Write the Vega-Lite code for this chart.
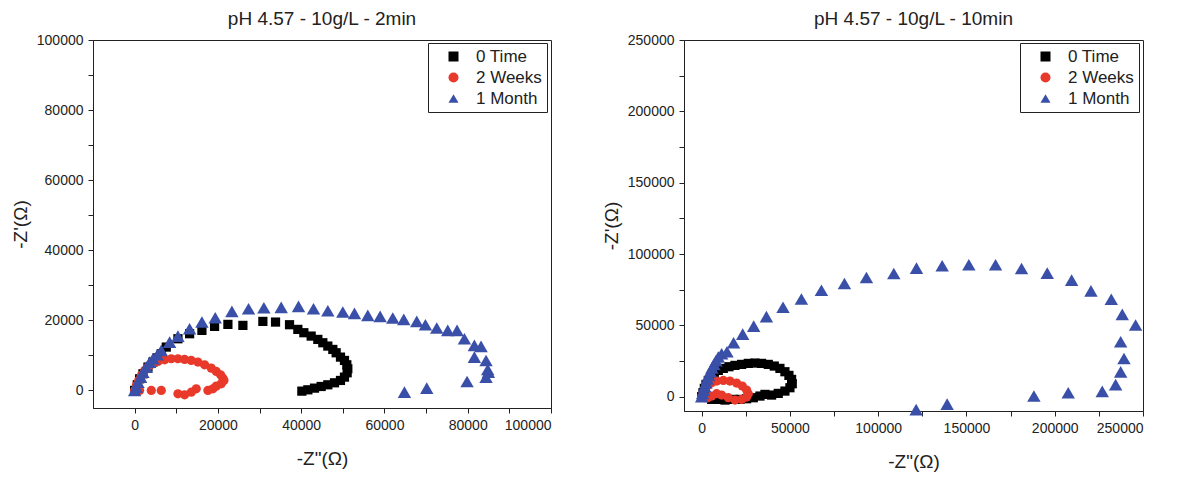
{
  "$schema": "https://vega.github.io/schema/vega-lite/v6.json",
  "padding": {"left": 10, "top": 9, "right": 5, "bottom": 5},
  "background": "white",
  "datasets": {
    "a": [
      {"s": "0 Time", "x": 0, "y": 0},
      {"s": "0 Time", "x": 640, "y": 1620},
      {"s": "0 Time", "x": 1200, "y": 3330},
      {"s": "0 Time", "x": 2000, "y": 4760},
      {"s": "0 Time", "x": 3200, "y": 6670},
      {"s": "0 Time", "x": 4400, "y": 8100},
      {"s": "0 Time", "x": 5400, "y": 9300},
      {"s": "0 Time", "x": 6400, "y": 10480},
      {"s": "0 Time", "x": 7600, "y": 12380},
      {"s": "0 Time", "x": 10400, "y": 14760},
      {"s": "0 Time", "x": 13200, "y": 16190},
      {"s": "0 Time", "x": 16160, "y": 17140},
      {"s": "0 Time", "x": 19200, "y": 18290},
      {"s": "0 Time", "x": 22400, "y": 18860},
      {"s": "0 Time", "x": 26000, "y": 18570},
      {"s": "0 Time", "x": 30800, "y": 19710},
      {"s": "0 Time", "x": 33840, "y": 19520},
      {"s": "0 Time", "x": 37200, "y": 18760},
      {"s": "0 Time", "x": 39200, "y": 17430},
      {"s": "0 Time", "x": 40640, "y": 16480},
      {"s": "0 Time", "x": 42400, "y": 15520},
      {"s": "0 Time", "x": 44000, "y": 14570},
      {"s": "0 Time", "x": 45200, "y": 13620},
      {"s": "0 Time", "x": 46400, "y": 12670},
      {"s": "0 Time", "x": 47600, "y": 11710},
      {"s": "0 Time", "x": 48400, "y": 10760},
      {"s": "0 Time", "x": 49440, "y": 9520},
      {"s": "0 Time", "x": 50400, "y": 8570},
      {"s": "0 Time", "x": 50960, "y": 7330},
      {"s": "0 Time", "x": 51200, "y": 6190},
      {"s": "0 Time", "x": 51040, "y": 5050},
      {"s": "0 Time", "x": 50400, "y": 3810},
      {"s": "0 Time", "x": 49440, "y": 2860},
      {"s": "0 Time", "x": 48000, "y": 2190},
      {"s": "0 Time", "x": 46400, "y": 1620},
      {"s": "0 Time", "x": 44800, "y": 1140},
      {"s": "0 Time", "x": 43200, "y": 670},
      {"s": "0 Time", "x": 41600, "y": 190},
      {"s": "0 Time", "x": 40160, "y": -190},
      {"s": "2 Weeks", "x": 0, "y": 0},
      {"s": "2 Weeks", "x": 400, "y": 1430},
      {"s": "2 Weeks", "x": 960, "y": 2860},
      {"s": "2 Weeks", "x": 1600, "y": 4290},
      {"s": "2 Weeks", "x": 2400, "y": 5710},
      {"s": "2 Weeks", "x": 3200, "y": 6670},
      {"s": "2 Weeks", "x": 4400, "y": 7620},
      {"s": "2 Weeks", "x": 5600, "y": 8290},
      {"s": "2 Weeks", "x": 7200, "y": 8760},
      {"s": "2 Weeks", "x": 8800, "y": 9050},
      {"s": "2 Weeks", "x": 10400, "y": 9050},
      {"s": "2 Weeks", "x": 12000, "y": 8860},
      {"s": "2 Weeks", "x": 13600, "y": 8570},
      {"s": "2 Weeks", "x": 15200, "y": 8100},
      {"s": "2 Weeks", "x": 16800, "y": 7330},
      {"s": "2 Weeks", "x": 18400, "y": 6380},
      {"s": "2 Weeks", "x": 19600, "y": 5430},
      {"s": "2 Weeks", "x": 20640, "y": 4480},
      {"s": "2 Weeks", "x": 21200, "y": 3520},
      {"s": "2 Weeks", "x": 21440, "y": 2860},
      {"s": "2 Weeks", "x": 20800, "y": 1900},
      {"s": "2 Weeks", "x": 19600, "y": 1240},
      {"s": "2 Weeks", "x": 18800, "y": 480},
      {"s": "2 Weeks", "x": 17600, "y": 0},
      {"s": "2 Weeks", "x": 14800, "y": 480},
      {"s": "2 Weeks", "x": 13600, "y": -480},
      {"s": "2 Weeks", "x": 12000, "y": -1240},
      {"s": "2 Weeks", "x": 10400, "y": -950},
      {"s": "2 Weeks", "x": 6400, "y": 0},
      {"s": "2 Weeks", "x": 4000, "y": 0},
      {"s": "2 Weeks", "x": 1200, "y": 0},
      {"s": "1 Month", "x": 0, "y": 0},
      {"s": "1 Month", "x": 400, "y": 950},
      {"s": "1 Month", "x": 800, "y": 2380},
      {"s": "1 Month", "x": 1440, "y": 3810},
      {"s": "1 Month", "x": 2000, "y": 5240},
      {"s": "1 Month", "x": 2800, "y": 6670},
      {"s": "1 Month", "x": 3600, "y": 8100},
      {"s": "1 Month", "x": 4400, "y": 9050},
      {"s": "1 Month", "x": 5440, "y": 10190},
      {"s": "1 Month", "x": 6400, "y": 11430},
      {"s": "1 Month", "x": 8400, "y": 13810},
      {"s": "1 Month", "x": 10400, "y": 15520},
      {"s": "1 Month", "x": 13200, "y": 17620},
      {"s": "1 Month", "x": 16160, "y": 19520},
      {"s": "1 Month", "x": 19360, "y": 20760},
      {"s": "1 Month", "x": 23360, "y": 22570},
      {"s": "1 Month", "x": 27360, "y": 23330},
      {"s": "1 Month", "x": 31040, "y": 23620},
      {"s": "1 Month", "x": 35200, "y": 23710},
      {"s": "1 Month", "x": 39360, "y": 24000},
      {"s": "1 Month", "x": 42960, "y": 23330},
      {"s": "1 Month", "x": 46400, "y": 22760},
      {"s": "1 Month", "x": 50000, "y": 22380},
      {"s": "1 Month", "x": 52800, "y": 22000},
      {"s": "1 Month", "x": 56000, "y": 21430},
      {"s": "1 Month", "x": 58960, "y": 21140},
      {"s": "1 Month", "x": 62000, "y": 20670},
      {"s": "1 Month", "x": 64640, "y": 20290},
      {"s": "1 Month", "x": 67760, "y": 19710},
      {"s": "1 Month", "x": 69840, "y": 18760},
      {"s": "1 Month", "x": 72560, "y": 17810},
      {"s": "1 Month", "x": 75200, "y": 17140},
      {"s": "1 Month", "x": 77440, "y": 17140},
      {"s": "1 Month", "x": 79200, "y": 14760},
      {"s": "1 Month", "x": 81600, "y": 12860},
      {"s": "1 Month", "x": 83200, "y": 12570},
      {"s": "1 Month", "x": 81600, "y": 9520},
      {"s": "1 Month", "x": 84400, "y": 8570},
      {"s": "1 Month", "x": 84800, "y": 6000},
      {"s": "1 Month", "x": 84960, "y": 5240},
      {"s": "1 Month", "x": 84400, "y": 3810},
      {"s": "1 Month", "x": 79840, "y": 2570},
      {"s": "1 Month", "x": 70160, "y": 670},
      {"s": "1 Month", "x": 64800, "y": -480}
    ],
    "b": [
      {"s": "0 Time", "x": 0, "y": 0},
      {"s": "0 Time", "x": 750, "y": 2800},
      {"s": "0 Time", "x": 1510, "y": 5840},
      {"s": "0 Time", "x": 2450, "y": 8640},
      {"s": "0 Time", "x": 3770, "y": 11450},
      {"s": "0 Time", "x": 5280, "y": 14250},
      {"s": "0 Time", "x": 7170, "y": 16590},
      {"s": "0 Time", "x": 9430, "y": 18460},
      {"s": "0 Time", "x": 12260, "y": 19860},
      {"s": "0 Time", "x": 15470, "y": 21030},
      {"s": "0 Time", "x": 18870, "y": 21960},
      {"s": "0 Time", "x": 22640, "y": 22660},
      {"s": "0 Time", "x": 26420, "y": 23360},
      {"s": "0 Time", "x": 30190, "y": 23600},
      {"s": "0 Time", "x": 33960, "y": 23360},
      {"s": "0 Time", "x": 37740, "y": 22660},
      {"s": "0 Time", "x": 41130, "y": 21500},
      {"s": "0 Time", "x": 44340, "y": 19860},
      {"s": "0 Time", "x": 47170, "y": 17520},
      {"s": "0 Time", "x": 49430, "y": 14950},
      {"s": "0 Time", "x": 50940, "y": 12150},
      {"s": "0 Time", "x": 51320, "y": 9110},
      {"s": "0 Time", "x": 50000, "y": 6310},
      {"s": "0 Time", "x": 47170, "y": 3970},
      {"s": "0 Time", "x": 43400, "y": 2340},
      {"s": "0 Time", "x": 39620, "y": 1170},
      {"s": "0 Time", "x": 35850, "y": 1640},
      {"s": "0 Time", "x": 33020, "y": 470},
      {"s": "0 Time", "x": 29250, "y": -700},
      {"s": "0 Time", "x": 25470, "y": -1400},
      {"s": "0 Time", "x": 21700, "y": -1870},
      {"s": "0 Time", "x": 17920, "y": -1870},
      {"s": "0 Time", "x": 13210, "y": -2340},
      {"s": "0 Time", "x": 9430, "y": -1870},
      {"s": "0 Time", "x": 5660, "y": -1870},
      {"s": "2 Weeks", "x": 0, "y": 0},
      {"s": "2 Weeks", "x": 940, "y": 2800},
      {"s": "2 Weeks", "x": 2260, "y": 5840},
      {"s": "2 Weeks", "x": 3770, "y": 8180},
      {"s": "2 Weeks", "x": 5660, "y": 9810},
      {"s": "2 Weeks", "x": 8490, "y": 10980},
      {"s": "2 Weeks", "x": 12260, "y": 11450},
      {"s": "2 Weeks", "x": 16040, "y": 10980},
      {"s": "2 Weeks", "x": 19810, "y": 9580},
      {"s": "2 Weeks", "x": 23020, "y": 7480},
      {"s": "2 Weeks", "x": 25470, "y": 4670},
      {"s": "2 Weeks", "x": 26420, "y": 2100},
      {"s": "2 Weeks", "x": 25470, "y": -230},
      {"s": "2 Weeks", "x": 22640, "y": -1870},
      {"s": "2 Weeks", "x": 18870, "y": -2340},
      {"s": "2 Weeks", "x": 15090, "y": -700},
      {"s": "2 Weeks", "x": 11320, "y": 1170},
      {"s": "2 Weeks", "x": 8490, "y": 2100},
      {"s": "2 Weeks", "x": 5660, "y": 470},
      {"s": "2 Weeks", "x": 3400, "y": -700},
      {"s": "2 Weeks", "x": 1890, "y": -700},
      {"s": "2 Weeks", "x": 570, "y": -230},
      {"s": "1 Month", "x": 0, "y": 0},
      {"s": "1 Month", "x": 570, "y": 2340},
      {"s": "1 Month", "x": 1130, "y": 4670},
      {"s": "1 Month", "x": 1700, "y": 7240},
      {"s": "1 Month", "x": 2450, "y": 9810},
      {"s": "1 Month", "x": 3210, "y": 12380},
      {"s": "1 Month", "x": 3960, "y": 14950},
      {"s": "1 Month", "x": 4910, "y": 17520},
      {"s": "1 Month", "x": 5850, "y": 20090},
      {"s": "1 Month", "x": 6980, "y": 22660},
      {"s": "1 Month", "x": 8110, "y": 25230},
      {"s": "1 Month", "x": 9430, "y": 27800},
      {"s": "1 Month", "x": 11320, "y": 30140},
      {"s": "1 Month", "x": 14350, "y": 31480},
      {"s": "1 Month", "x": 18100, "y": 37800},
      {"s": "1 Month", "x": 23240, "y": 43900},
      {"s": "1 Month", "x": 29480, "y": 49500},
      {"s": "1 Month", "x": 36680, "y": 56100},
      {"s": "1 Month", "x": 46090, "y": 62700},
      {"s": "1 Month", "x": 56500, "y": 68500},
      {"s": "1 Month", "x": 67840, "y": 74650},
      {"s": "1 Month", "x": 80880, "y": 79360},
      {"s": "1 Month", "x": 93340, "y": 83570},
      {"s": "1 Month", "x": 108840, "y": 86380},
      {"s": "1 Month", "x": 121690, "y": 90140},
      {"s": "1 Month", "x": 136240, "y": 91780},
      {"s": "1 Month", "x": 151360, "y": 92490},
      {"s": "1 Month", "x": 166480, "y": 92490},
      {"s": "1 Month", "x": 181200, "y": 89910},
      {"s": "1 Month", "x": 195750, "y": 86620},
      {"s": "1 Month", "x": 209580, "y": 81690},
      {"s": "1 Month", "x": 220520, "y": 74180},
      {"s": "1 Month", "x": 232030, "y": 68310},
      {"s": "1 Month", "x": 238260, "y": 57750},
      {"s": "1 Month", "x": 245820, "y": 50230},
      {"s": "1 Month", "x": 237340, "y": 38520},
      {"s": "1 Month", "x": 239230, "y": 26760},
      {"s": "1 Month", "x": 237340, "y": 17390},
      {"s": "1 Month", "x": 234500, "y": 8450},
      {"s": "1 Month", "x": 226930, "y": 3760},
      {"s": "1 Month", "x": 207650, "y": 2820},
      {"s": "1 Month", "x": 188210, "y": 470},
      {"s": "1 Month", "x": 139060, "y": -5160},
      {"s": "1 Month", "x": 121490, "y": -9000}
    ]
  },
  "hconcat": [
    {
      "title": "pH 4.57 - 10g/L - 2min",
      "width": 458,
      "height": 368,
      "data": {"name": "a"},
      "mark": {"type": "point", "filled": true, "opacity": 1, "strokeWidth": 0},
      "encoding": {
        "x": {"field": "x", "type": "quantitative",
          "scale": {"domain": [-10000, 100000], "nice": false, "zero": false},
          "axis": {"title": "-Z\"(Ω)", "format": "d",
            "values": [0, 10000, 20000, 30000, 40000, 50000, 60000, 70000, 80000, 90000, 100000],
            "labelExpr": "datum.value % 20000 === 0 ? datum.label : ''"}},
        "y": {"field": "y", "type": "quantitative",
          "scale": {"domain": [-5000, 100000], "nice": false, "zero": false},
          "axis": {"title": "-Z'(Ω)", "format": "d",
            "values": [0, 10000, 20000, 30000, 40000, 50000, 60000, 70000, 80000, 90000, 100000],
            "labelExpr": "datum.value % 20000 === 0 ? datum.label : ''"}},
        "color": {"field": "s", "type": "nominal",
          "scale": {"domain": ["0 Time", "2 Weeks", "1 Month"], "range": ["#000000", "#e8392a", "#3a4fa8"]},
          "legend": {"title": null, "orient": "none", "legendX": 335, "legendY": 3}},
        "shape": {"field": "s", "type": "nominal",
          "scale": {"domain": ["0 Time", "2 Weeks", "1 Month"], "range": ["square", "circle", "triangle-up"]},
          "legend": {"title": null, "orient": "none", "legendX": 335, "legendY": 3}},
        "size": {"condition": {"test": "datum.s === '1 Month'", "value": 180}, "value": 85}
      }
    },
    {
      "title": "pH 4.57 - 10g/L - 10min",
      "width": 459,
      "height": 371,
      "data": {"name": "b"},
      "mark": {"type": "point", "filled": true, "opacity": 1, "strokeWidth": 0},
      "encoding": {
        "x": {"field": "x", "type": "quantitative",
          "scale": {"domain": [-10000, 250000], "nice": false, "zero": false},
          "axis": {"title": "-Z\"(Ω)", "format": "d",
            "values": [0, 25000, 50000, 75000, 100000, 125000, 150000, 175000, 200000, 225000, 250000],
            "labelExpr": "datum.value % 50000 === 0 ? datum.label : ''"}},
        "y": {"field": "y", "type": "quantitative",
          "scale": {"domain": [-10000, 250000], "nice": false, "zero": false},
          "axis": {"title": "-Z'(Ω)", "format": "d",
            "values": [0, 25000, 50000, 75000, 100000, 125000, 150000, 175000, 200000, 225000, 250000],
            "labelExpr": "datum.value % 50000 === 0 ? datum.label : ''"}},
        "color": {"field": "s", "type": "nominal",
          "scale": {"domain": ["0 Time", "2 Weeks", "1 Month"], "range": ["#000000", "#e8392a", "#3a4fa8"]},
          "legend": {"title": null, "orient": "none", "legendX": 336, "legendY": 3}},
        "shape": {"field": "s", "type": "nominal",
          "scale": {"domain": ["0 Time", "2 Weeks", "1 Month"], "range": ["square", "circle", "triangle-up"]},
          "legend": {"title": null, "orient": "none", "legendX": 336, "legendY": 3}},
        "size": {"condition": {"test": "datum.s === '1 Month'", "value": 180}, "value": 85}
      }
    }
  ],
  "spacing": 49,
  "resolve": {"scale": {"color": "independent", "shape": "independent"}, "legend": {"color": "independent", "shape": "independent"}},
  "config": {
    "font": "Liberation Sans",
    "view": {"stroke": "#222", "strokeWidth": 1},
    "axis": {"grid": false, "domainColor": "#222", "tickColor": "#222", "labelColor": "#222", "titleColor": "#222",
      "labelFontSize": 14, "titleFontSize": 19, "titleFontWeight": "normal", "tickSize": 5, "labelPadding": 5},
    "axisX": {"titlePadding": 17},
    "axisY": {"titlePadding": 6},
    "legend": {"strokeColor": "#222", "fillColor": "white", "padding": 5, "labelFontSize": 17, "labelColor": "#222",
      "symbolStrokeWidth": 0, "symbolSize": 100, "rowPadding": 3, "labelOffset": 14, "symbolOffset": 12},
    "title": {"fontSize": 19, "fontWeight": "normal", "color": "#222", "offset": 4}
  }
}
